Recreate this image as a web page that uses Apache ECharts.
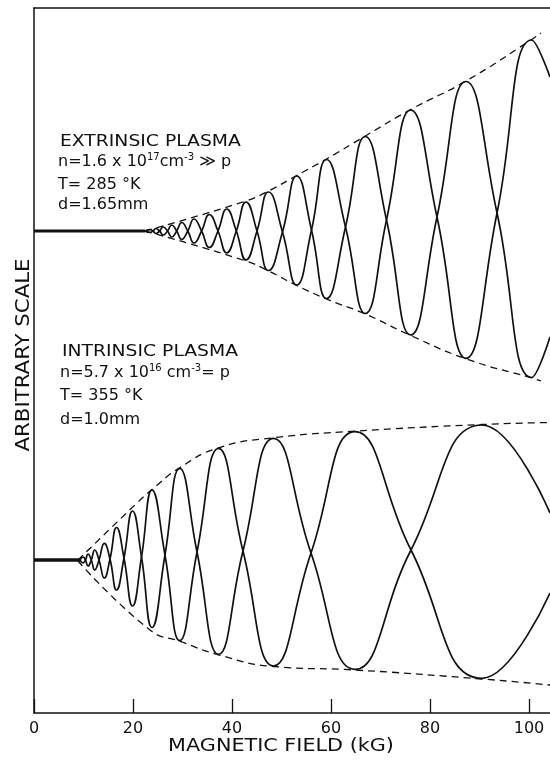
<!DOCTYPE html>
<html><head><meta charset="utf-8">
<script src="https://cdn.jsdelivr.net/npm/echarts@6/dist/echarts.min.js"></script>
<style>html,body{margin:0;padding:0;background:#fff}#c{width:550px;height:764px}</style>
</head><body><div id="c"></div>
<script>
// ---- data (x in kG, y in arbitrary units) ----
const fieldTicks = [0, 20, 40, 60, 80, 100];
const fieldMax = 104.24;

// Extrinsic plasma trace
const extBaseB = [0, 22.42];
const extBaseV = [482, 482];
const extNodesB = [22.42, 24.04, 25.37, 26.97, 28.83, 31.07, 33.86, 37.17, 40.87, 45.05, 50.20, 56.06, 62.93, 71.21, 81.41, 93.54];
const extNodesV = [482, 482, 482, 482, 482, 482, 482, 482, 482, 482, 481, 483, 486, 493, 496, 500];
const extPeaksB = [23.43, 24.65, 26.12, 27.82, 29.84, 32.32, 35.41, 38.93, 42.83, 47.37, 53.07, 59.09, 66.93, 76.10, 87.27, 100.55];
const extUpper = [483.5, 484.5, 486, 488, 490.5, 494, 498.5, 504, 511, 521, 537, 553.5, 576.5, 603, 631.5, 673];
const extLower = [480.5, 479.5, 478, 476, 473.5, 470, 465.5, 460, 453, 442.5, 428, 414.5, 399.5, 378, 354.7, 335.5];
const extEdgeV = [636, 376];
const extEnvB = [22.42, 42.83, 47.37, 53.07, 59.09, 66.93, 76.10, 87.27, 100.55, 102.42];
const extEnvUpper = [482, 512, 522, 537.5, 554, 577, 603.5, 632, 673.5, 680];
const extEnvLower = [482, 452, 442, 427.5, 414, 399, 377.5, 354.2, 335, 332];

// Intrinsic plasma trace
const intBaseB = [0, 9.29];
const intBaseV = [153, 153];
const intNodesB = [9.29, 10.40, 11.58, 13.13, 15.35, 18.18, 21.72, 26.46, 32.93, 42.22, 55.96, 76.16];
const intNodesV = [153, 153, 153, 153, 154, 155, 156, 158, 161, 162, 160, 163];
const intPeaksB = [9.90, 10.91, 12.26, 14.20, 16.67, 19.90, 23.84, 29.43, 37.27, 48.38, 64.85, 90.51];
const intUpper = [156, 159, 163, 169.7, 185.5, 202, 223, 244.7, 264.7, 274.7, 281.3, 288];
const intLower = [150, 147, 143, 135, 123, 107, 85.5, 72.3, 58.7, 47, 43.7, 34.7];
const intEdgeV = [200, 120];
const intEnvUpperB = [8.89, 20.81, 23.84, 29.43, 37.27, 48.38, 64.85, 90.51, 104.24];
const intEnvUpper = [153, 210, 223.5, 245.2, 265.2, 275.2, 281.8, 288.5, 290.5];
const intEnvLowerB = [8.89, 23.43, 29.43, 37.27, 48.38, 64.85, 90.51, 104.24];
const intEnvLower = [152, 83, 71.8, 58.2, 46.5, 43, 34, 28];

// ---- build curves from the read values ----
function buildCurve(nodesB, nodesV, peaksB, up, lo, edgeV, upperOnOdd) {
  const pts = [];
  for (let i = 0; i < peaksB.length; i++) {
    pts.push([nodesB[i], nodesV[i]]);
    const useUpper = (i % 2 === 1) === upperOnOdd;
    pts.push([peaksB[i], useUpper ? up[i] : lo[i]]);
  }
  pts.push([fieldMax, edgeV]);
  return pts;
}
const zip = (a, b) => a.map((v, i) => [v, b[i]]);

const extA = buildCurve(extNodesB, extNodesV, extPeaksB, extUpper, extLower, extEdgeV[0], true);
const extB = buildCurve(extNodesB, extNodesV, extPeaksB, extUpper, extLower, extEdgeV[1], false);
const intA = buildCurve(intNodesB, intNodesV, intPeaksB, intUpper, intLower, intEdgeV[0], true);
const intB = buildCurve(intNodesB, intNodesV, intPeaksB, intUpper, intLower, intEdgeV[1], false);

const solid = { color: '#111', width: 1.7 };
const dashed = { color: '#111', width: 1.3, type: [7, 5] };
function line(data, style, smooth) {
  return { type: 'line', data, showSymbol: false, symbol: 'none', smooth: smooth, lineStyle: style, silent: true, z: 3 };
}

const FONT = '"DejaVu Sans", sans-serif';
const supStyle = { fontSize: 10, lineHeight: 10, verticalAlign: 'top', fontFamily: FONT, fill: '#111' };
function label(text, x, y, size, sx, extra) {
  return Object.assign({
    type: 'text', x: x, y: y, scaleX: sx, scaleY: 1, originX: 0, originY: 0, silent: true,
    style: Object.assign({ text: text, fill: '#111', font: size + 'px ' + FONT, align: 'left', verticalAlign: 'middle' }, extra || {})
  });
}

const chart = echarts.init(document.getElementById('c'), null, { renderer: 'canvas' });
chart.setOption({
  animation: false,
  backgroundColor: '#fff',
  grid: { left: 34, right: 0, top: 8, bottom: 51, containLabel: false },
  xAxis: [{
    type: 'value', min: 0, max: fieldMax, interval: 20,
    axisLine: { show: true, lineStyle: { color: '#111', width: 1.5 } },
    axisTick: { show: true, inside: true, length: 14, lineStyle: { color: '#111', width: 1.3 } },
    axisLabel: { show: true, margin: 8, color: '#111', fontSize: 16, fontFamily: FONT, showMaxLabel: false,
      formatter: v => fieldTicks.includes(v) ? String(v) : '' },
    splitLine: { show: false }
  }, {
    type: 'value', position: 'top', min: 0, max: fieldMax,
    axisLine: { show: true, lineStyle: { color: '#111', width: 1.5 } },
    axisTick: { show: false }, axisLabel: { show: false }, splitLine: { show: false }
  }],
  yAxis: {
    type: 'value', min: 0, max: 705,
    axisLine: { show: true, lineStyle: { color: '#111', width: 1.5 } },
    axisTick: { show: false }, axisLabel: { show: false }, splitLine: { show: false }
  },
  graphic: [
    { type: 'text', x: 281, y: 747, scaleX: 1.22, originX: 0, originY: 0, silent: true,
      style: { text: 'MAGNETIC FIELD (kG)', fill: '#111', font: '17px ' + FONT, align: 'center', verticalAlign: 'middle' } },
    { type: 'text', x: 24.5, y: 355, rotation: Math.PI / 2, scaleX: 1.12, originX: 0, originY: 0, silent: true,
      style: { text: 'ARBITRARY SCALE', fill: '#111', font: '19px ' + FONT, align: 'center', verticalAlign: 'middle' } },
    label('EXTRINSIC PLASMA', 60, 142, 15, 1.25),
    label('n=1.6 x 10{s|17}cm{s|-3} ≫ p', 58, 162, 16, 1, { lineHeight: 19, rich: { s: supStyle } }),
    label('T= 285 °K', 58, 185, 16, 1),
    label('d=1.65mm', 58, 205, 16, 1),
    label('INTRINSIC PLASMA', 62, 352, 15, 1.25),
    label('n=5.7 x 10{s|16} cm{s|-3}= p', 60, 373, 16, 1, { lineHeight: 19, rich: { s: supStyle } }),
    label('T= 355 °K', 60, 396, 16, 1),
    label('d=1.0mm', 60, 420, 16, 1)
  ],
  series: [
    line(zip(extBaseB, extBaseV), { color: '#111', width: 3 }, false),
    line(extA, solid, true),
    line(extB, solid, true),
    line(zip(extEnvB, extEnvUpper), dashed, true),
    line(zip(extEnvB, extEnvLower), dashed, true),
    line(zip(intBaseB, intBaseV), { color: '#111', width: 3.5 }, false),
    line(intA, solid, true),
    line(intB, solid, true),
    line(zip(intEnvUpperB, intEnvUpper), dashed, true),
    line(zip(intEnvLowerB, intEnvLower), dashed, true)
  ]
});
</script></body></html>
